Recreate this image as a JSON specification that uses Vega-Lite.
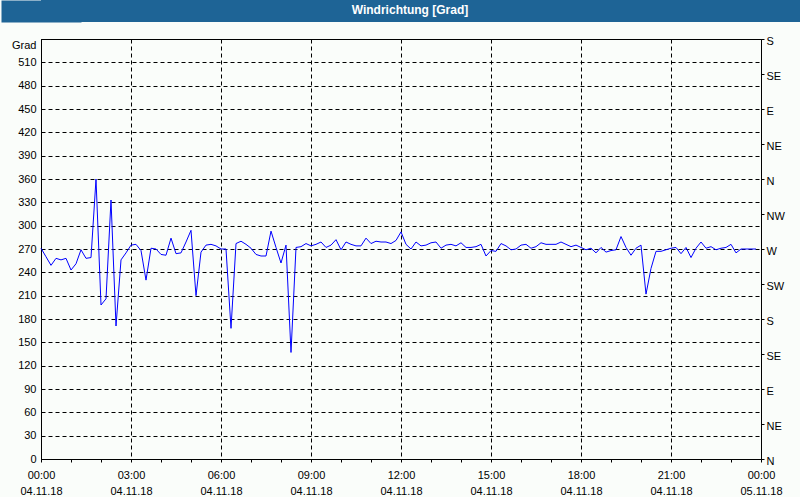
{
  "$schema": "https://vega.github.io/schema/vega-lite/v6.json",
  "background": "#FAFDFA",
  "padding": 0,
  "spacing": 12,
  "bounds": "full",
  "config": {
    "font": "Liberation Sans",
    "view": {"stroke": "black", "strokeWidth": 1},
    "axis": {"labelFont": "Liberation Sans", "labelFontSize": 11, "labelColor": "black", "domainColor": "black", "tickColor": "black", "title": null, "labelOverlap": false}
  },
  "vconcat": [
    {
      "width": 760,
      "height": 22,
      "view": {"fill": "#1E6496", "stroke": null},
      "data": {"values": [{"label": "Windrichtung [Grad]"}]},
      "mark": {"type": "text", "color": "white", "fontWeight": "bold", "fontSize": 12, "font": "Liberation Sans", "dx": -11, "dy": -1},
      "encoding": {
        "text": {"field": "label", "type": "nominal"},
        "y": {
          "field": "label", "type": "nominal",
          "axis": {"orient": "left", "labels": false, "ticks": false, "grid": false, "domain": true, "domainColor": "#1E6496", "domainWidth": 80, "domainCap": "butt", "minExtent": 40, "maxExtent": 40}
        }
      }
    },
    {
      "width": 720,
      "height": 420,
      "data": {"values": [
        {"t":"2018-11-04T00:00:00Z","deg":271},{"t":"2018-11-04T00:10:00Z","deg":260},{"t":"2018-11-04T00:20:00Z","deg":249},{"t":"2018-11-04T00:30:00Z","deg":258},{"t":"2018-11-04T00:40:00Z","deg":256},{"t":"2018-11-04T00:50:00Z","deg":258},
        {"t":"2018-11-04T01:00:00Z","deg":243},{"t":"2018-11-04T01:10:00Z","deg":251},{"t":"2018-11-04T01:20:00Z","deg":269},{"t":"2018-11-04T01:30:00Z","deg":258},{"t":"2018-11-04T01:40:00Z","deg":259},{"t":"2018-11-04T01:50:00Z","deg":360},
        {"t":"2018-11-04T02:00:00Z","deg":198},{"t":"2018-11-04T02:10:00Z","deg":206},{"t":"2018-11-04T02:20:00Z","deg":333},{"t":"2018-11-04T02:30:00Z","deg":171},{"t":"2018-11-04T02:40:00Z","deg":256},{"t":"2018-11-04T02:50:00Z","deg":265},
        {"t":"2018-11-04T03:00:00Z","deg":275},{"t":"2018-11-04T03:10:00Z","deg":276},{"t":"2018-11-04T03:20:00Z","deg":268},{"t":"2018-11-04T03:30:00Z","deg":230},{"t":"2018-11-04T03:40:00Z","deg":271},{"t":"2018-11-04T03:50:00Z","deg":270},
        {"t":"2018-11-04T04:00:00Z","deg":263},{"t":"2018-11-04T04:10:00Z","deg":262},{"t":"2018-11-04T04:20:00Z","deg":284},{"t":"2018-11-04T04:30:00Z","deg":264},{"t":"2018-11-04T04:40:00Z","deg":265},{"t":"2018-11-04T04:50:00Z","deg":279},
        {"t":"2018-11-04T05:00:00Z","deg":294},{"t":"2018-11-04T05:10:00Z","deg":210},{"t":"2018-11-04T05:20:00Z","deg":266},{"t":"2018-11-04T05:30:00Z","deg":275},{"t":"2018-11-04T05:40:00Z","deg":276},{"t":"2018-11-04T05:50:00Z","deg":274},
        {"t":"2018-11-04T06:00:00Z","deg":270},{"t":"2018-11-04T06:10:00Z","deg":270},{"t":"2018-11-04T06:20:00Z","deg":168},{"t":"2018-11-04T06:30:00Z","deg":277},{"t":"2018-11-04T06:40:00Z","deg":280},{"t":"2018-11-04T06:50:00Z","deg":276},
        {"t":"2018-11-04T07:00:00Z","deg":271},{"t":"2018-11-04T07:10:00Z","deg":263},{"t":"2018-11-04T07:20:00Z","deg":261},{"t":"2018-11-04T07:30:00Z","deg":261},{"t":"2018-11-04T07:40:00Z","deg":293},{"t":"2018-11-04T07:50:00Z","deg":272},
        {"t":"2018-11-04T08:00:00Z","deg":252},{"t":"2018-11-04T08:10:00Z","deg":275},{"t":"2018-11-04T08:20:00Z","deg":137},{"t":"2018-11-04T08:30:00Z","deg":272},{"t":"2018-11-04T08:40:00Z","deg":273},{"t":"2018-11-04T08:50:00Z","deg":277},
        {"t":"2018-11-04T09:00:00Z","deg":274},{"t":"2018-11-04T09:10:00Z","deg":276},{"t":"2018-11-04T09:20:00Z","deg":279},{"t":"2018-11-04T09:30:00Z","deg":272},{"t":"2018-11-04T09:40:00Z","deg":275},{"t":"2018-11-04T09:50:00Z","deg":282},
        {"t":"2018-11-04T10:00:00Z","deg":269},{"t":"2018-11-04T10:10:00Z","deg":279},{"t":"2018-11-04T10:20:00Z","deg":276},{"t":"2018-11-04T10:30:00Z","deg":274},{"t":"2018-11-04T10:40:00Z","deg":274},{"t":"2018-11-04T10:50:00Z","deg":284},
        {"t":"2018-11-04T11:00:00Z","deg":277},{"t":"2018-11-04T11:10:00Z","deg":280},{"t":"2018-11-04T11:20:00Z","deg":279},{"t":"2018-11-04T11:30:00Z","deg":279},{"t":"2018-11-04T11:40:00Z","deg":277},{"t":"2018-11-04T11:50:00Z","deg":281},
        {"t":"2018-11-04T12:00:00Z","deg":292},{"t":"2018-11-04T12:10:00Z","deg":276},{"t":"2018-11-04T12:20:00Z","deg":270},{"t":"2018-11-04T12:30:00Z","deg":279},{"t":"2018-11-04T12:40:00Z","deg":274},{"t":"2018-11-04T12:50:00Z","deg":275},
        {"t":"2018-11-04T13:00:00Z","deg":278},{"t":"2018-11-04T13:10:00Z","deg":279},{"t":"2018-11-04T13:20:00Z","deg":271},{"t":"2018-11-04T13:30:00Z","deg":275},{"t":"2018-11-04T13:40:00Z","deg":276},{"t":"2018-11-04T13:50:00Z","deg":274},
        {"t":"2018-11-04T14:00:00Z","deg":278},{"t":"2018-11-04T14:10:00Z","deg":272},{"t":"2018-11-04T14:20:00Z","deg":272},{"t":"2018-11-04T14:30:00Z","deg":273},{"t":"2018-11-04T14:40:00Z","deg":276},{"t":"2018-11-04T14:50:00Z","deg":261},
        {"t":"2018-11-04T15:00:00Z","deg":268},{"t":"2018-11-04T15:10:00Z","deg":267},{"t":"2018-11-04T15:20:00Z","deg":277},{"t":"2018-11-04T15:30:00Z","deg":274},{"t":"2018-11-04T15:40:00Z","deg":269},{"t":"2018-11-04T15:50:00Z","deg":270},
        {"t":"2018-11-04T16:00:00Z","deg":275},{"t":"2018-11-04T16:10:00Z","deg":276},{"t":"2018-11-04T16:20:00Z","deg":271},{"t":"2018-11-04T16:30:00Z","deg":273},{"t":"2018-11-04T16:40:00Z","deg":278},{"t":"2018-11-04T16:50:00Z","deg":276},
        {"t":"2018-11-04T17:00:00Z","deg":276},{"t":"2018-11-04T17:10:00Z","deg":276},{"t":"2018-11-04T17:20:00Z","deg":279},{"t":"2018-11-04T17:30:00Z","deg":276},{"t":"2018-11-04T17:40:00Z","deg":273},{"t":"2018-11-04T17:50:00Z","deg":275},
        {"t":"2018-11-04T18:00:00Z","deg":272},{"t":"2018-11-04T18:10:00Z","deg":269},{"t":"2018-11-04T18:20:00Z","deg":271},{"t":"2018-11-04T18:30:00Z","deg":265},{"t":"2018-11-04T18:40:00Z","deg":272},{"t":"2018-11-04T18:50:00Z","deg":266},
        {"t":"2018-11-04T19:00:00Z","deg":268},{"t":"2018-11-04T19:10:00Z","deg":269},{"t":"2018-11-04T19:20:00Z","deg":286},{"t":"2018-11-04T19:30:00Z","deg":272},{"t":"2018-11-04T19:40:00Z","deg":262},{"t":"2018-11-04T19:50:00Z","deg":271},
        {"t":"2018-11-04T20:00:00Z","deg":275},{"t":"2018-11-04T20:10:00Z","deg":212},{"t":"2018-11-04T20:20:00Z","deg":245},{"t":"2018-11-04T20:30:00Z","deg":267},{"t":"2018-11-04T20:40:00Z","deg":267},{"t":"2018-11-04T20:50:00Z","deg":269},
        {"t":"2018-11-04T21:00:00Z","deg":271},{"t":"2018-11-04T21:10:00Z","deg":272},{"t":"2018-11-04T21:20:00Z","deg":264},{"t":"2018-11-04T21:30:00Z","deg":272},{"t":"2018-11-04T21:40:00Z","deg":259},{"t":"2018-11-04T21:50:00Z","deg":271},
        {"t":"2018-11-04T22:00:00Z","deg":279},{"t":"2018-11-04T22:10:00Z","deg":271},{"t":"2018-11-04T22:20:00Z","deg":273},{"t":"2018-11-04T22:30:00Z","deg":269},{"t":"2018-11-04T22:40:00Z","deg":271},{"t":"2018-11-04T22:50:00Z","deg":272},
        {"t":"2018-11-04T23:00:00Z","deg":276},{"t":"2018-11-04T23:10:00Z","deg":265},{"t":"2018-11-04T23:20:00Z","deg":270},{"t":"2018-11-04T23:30:00Z","deg":270},{"t":"2018-11-04T23:40:00Z","deg":270},{"t":"2018-11-04T23:50:00Z","deg":270}
      ]},
      "encoding": {
        "x": {
          "field": "t", "type": "temporal",
          "scale": {"type": "utc", "domain": [1541289600000, 1541376000000], "nice": false},
          "axis": {
            "values": [1541289600000,1541293200000,1541296800000,1541300400000,1541304000000,1541307600000,1541311200000,1541314800000,1541318400000,1541322000000,1541325600000,1541329200000,1541332800000,1541336400000,1541340000000,1541343600000,1541347200000,1541350800000,1541354400000,1541358000000,1541361600000,1541365200000,1541368800000,1541372400000,1541376000000],
            "labelExpr": "utchours(datum.value) % 3 === 0 ? [utcFormat(datum.value, '%H:%M'), utcFormat(datum.value, '%d.%m.%y')] : ''",
            "labelFlush": false,
            "labelPadding": 7,
            "labelLineHeight": 16,
            "tickSize": 3,
            "grid": true,
            "gridColor": "black",
            "gridDash": [4, 3],
            "gridOpacity": {"condition": {"test": "utchours(datum.value) % 3 === 0", "value": 1}, "value": 0}
          }
        }
      },
      "layer": [
        {
          "mark": {"type": "line", "color": "#0000FF", "strokeWidth": 1},
          "encoding": {
            "y": {
              "field": "deg", "type": "quantitative",
              "scale": {"domain": [0, 540], "nice": false, "zero": false},
              "axis": {
                "orient": "left",
                "values": [0,30,60,90,120,150,180,210,240,270,300,330,360,390,420,450,480,510,540],
                "labelExpr": "datum.value === 540 ? 'Grad' : datum.label",
                "labelBaseline": {"condition": {"test": "datum.value === 540", "value": "top"}, "value": "middle"},
                "ticks": false,
                "tickSize": 0,
                "labelPadding": 5,
                "minExtent": 40,
                "maxExtent": 40,
                "grid": true,
                "gridColor": "black",
                "gridDash": [4, 3]
              }
            }
          }
        },
        {
          "mark": {"type": "line", "opacity": 0},
          "encoding": {
            "y": {
              "field": "deg", "type": "quantitative",
              "axis": {
                "orient": "right",
                "values": [0,45,90,135,180,225,270,315,360,405,450,495,540],
                "labelExpr": "['N','NE','E','SE','S','SW','W','NW','N','NE','E','SE','S'][round(datum.value / 45)]",
                "tickSize": 3,
                "labelPadding": 2,
                "labelOffset": 2,
                "grid": false
              }
            }
          }
        }
      ],
      "resolve": {"axis": {"y": "independent"}}
    }
  ]
}
